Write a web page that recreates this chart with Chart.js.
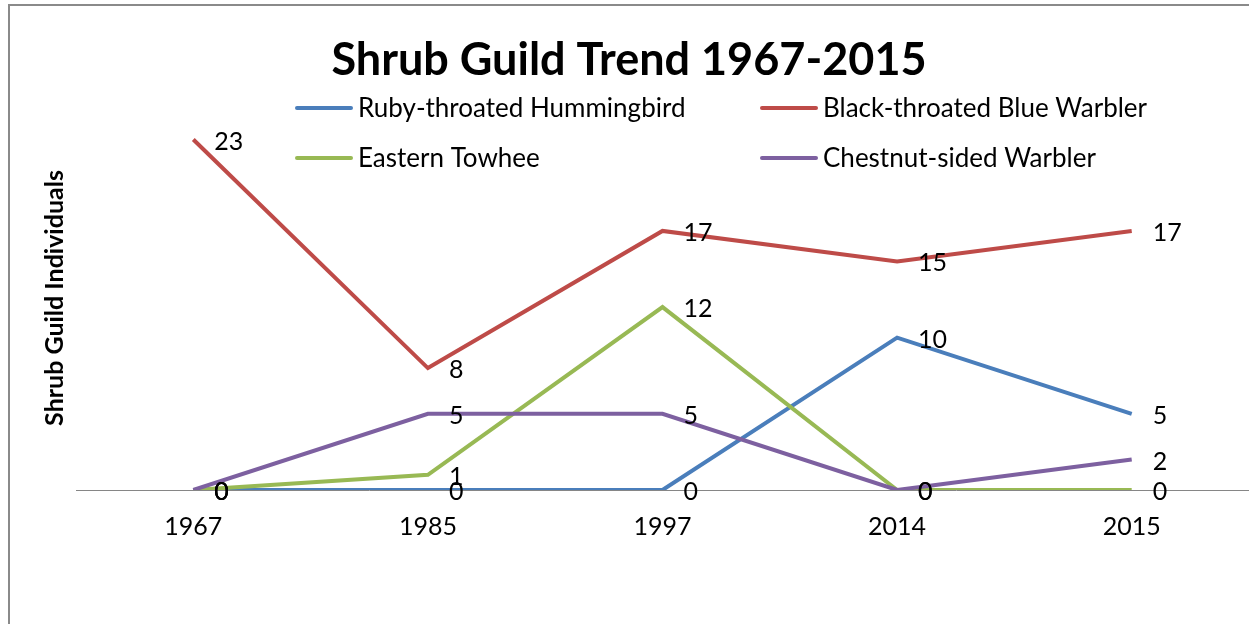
<!DOCTYPE html>
<html>
<head>
<meta charset="utf-8">
<title>Shrub Guild Trend 1967-2015</title>
<script src="https://cdn.jsdelivr.net/npm/chart.js@4.4.0/dist/chart.umd.min.js"></script>
<style>
    html, body { margin: 0; padding: 0; background: #fff; overflow: hidden; }
    #wrap { position: relative; width: 1249px; height: 624px; }
</style>
</head>
<body>
<div id="wrap"><canvas id="chart" width="1249" height="624"></canvas></div>
<script>
// Datos del gráfico
const years = ['1967', '1985', '1997', '2014', '2015'];
const seriesNames = ['Ruby-throated Hummingbird', 'Black-throated Blue Warbler', 'Eastern Towhee', 'Chestnut-sided Warbler'];
const hummingbird = [0, 0, 0, 10, 5];
const blueWarbler = [23, 8, 17, 15, 17];
const towhee = [0, 1, 12, 0, 0];
const chestnutWarbler = [0, 5, 5, 0, 2];
const seriesColors = ['#4A7EBB', '#BE4B48', '#98B954', '#7D60A0'];
const chartTitle = 'Shrub Guild Trend 1967-2015';
const yTitle = 'Shrub Guild Individuals';

const FONT = 'Lato, "Open Sans", sans-serif';

/**
 * Dibuja el marco, título, leyenda, título del eje y etiquetas de datos
 */
const decorPlugin = {
    id: 'decor',
    beforeDraw(chart) {
        const ctx = chart.ctx;
        ctx.save();
        ctx.fillStyle = '#fff';
        ctx.fillRect(0, 0, chart.width, chart.height);
        // marco gris (solo lados visibles)
        ctx.strokeStyle = '#8a8a8a';
        ctx.lineWidth = 2;
        ctx.beginPath();
        ctx.moveTo(9, chart.height);
        ctx.lineTo(9, 5);
        ctx.lineTo(chart.width, 5);
        ctx.stroke();
        ctx.restore();
    },
    afterDatasetsDraw(chart) {
        const ctx = chart.ctx;
        ctx.save();
        ctx.font = '25px ' + FONT;
        ctx.fillStyle = '#000';
        ctx.textAlign = 'left';
        ctx.textBaseline = 'middle';
        chart.data.datasets.forEach(function(ds, i) {
            const meta = chart.getDatasetMeta(i);
            meta.data.forEach(function(pt, j) {
                ctx.fillText(String(ds.data[j]), pt.x + 21, pt.y + 2);
            });
        });
        ctx.restore();
    },
    afterDraw(chart) {
        const ctx = chart.ctx;
        ctx.save();
        // título
        ctx.fillStyle = '#000';
        ctx.font = 'bold 45px ' + FONT;
        ctx.textAlign = 'center';
        ctx.textBaseline = 'middle';
        ctx.fillText(chartTitle, 629, 60);

        // leyenda en dos columnas
        const colX = [297, 762];
        const rowY = [108, 158];
        ctx.font = '26px ' + FONT;
        ctx.textAlign = 'left';
        seriesNames.forEach(function(name, i) {
            const x = colX[i % 2];
            const y = rowY[Math.floor(i / 2)];
            ctx.strokeStyle = seriesColors[i];
            ctx.lineWidth = 4;
            ctx.lineCap = 'round';
            ctx.beginPath();
            ctx.moveTo(x, y);
            ctx.lineTo(x + 54, y);
            ctx.stroke();
            ctx.fillStyle = '#000';
            ctx.fillText(name, x + 61, y + 1);
        });

        // título del eje y
        ctx.translate(55, 298);
        ctx.rotate(-Math.PI / 2);
        ctx.font = 'bold 25px ' + FONT;
        ctx.textAlign = 'center';
        ctx.fillText(yTitle, 0, 0);
        ctx.restore();
    }
};

const seriesData = [hummingbird, blueWarbler, towhee, chestnutWarbler];

new Chart(document.getElementById('chart'), {
    type: 'line',
    data: {
        labels: years,
        datasets: seriesData.map(function(values, i) {
            return {
                label: seriesNames[i],
                data: values,
                borderColor: seriesColors[i],
                backgroundColor: seriesColors[i],
                borderWidth: 4,
                pointRadius: 0,
                tension: 0,
                fill: false,
                order: seriesData.length - i
            };
        })
    },
    options: {
        responsive: false,
        animation: false,
        devicePixelRatio: 1,
        layout: {
            padding: { left: 76, right: 0, top: 109, bottom: 60 }
        },
        plugins: {
            legend: { display: false },
            title: { display: false },
            tooltip: { enabled: false }
        },
        scales: {
            x: {
                offset: true,
                grid: { display: false, drawTicks: false },
                border: { display: true, color: '#868686', width: 1 },
                ticks: {
                    color: '#000',
                    padding: 22,
                    font: { family: FONT, size: 25 }
                }
            },
            y: {
                display: false,
                min: 0,
                max: 25
            }
        }
    },
    plugins: [decorPlugin]
});
</script>
</body>
</html>
